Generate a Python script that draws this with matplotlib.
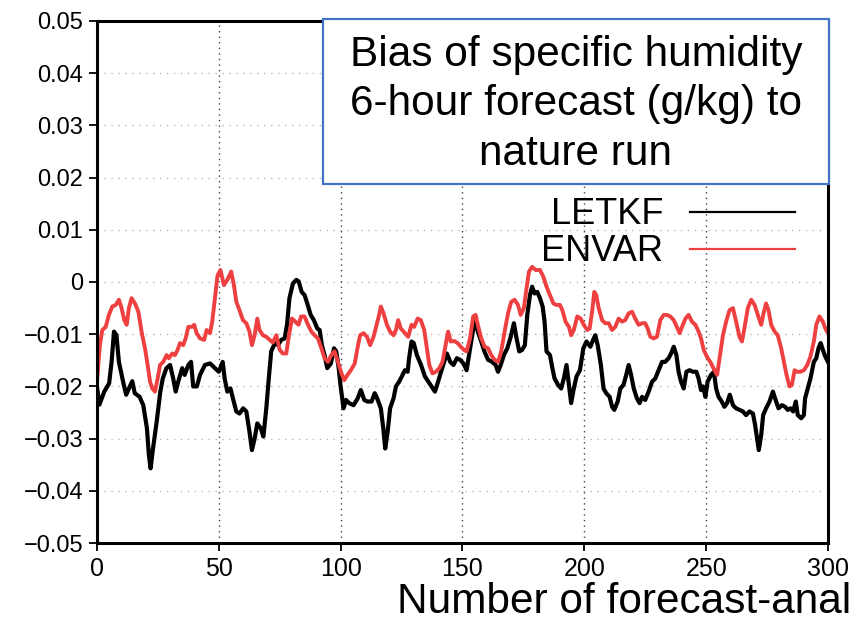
import matplotlib
matplotlib.use('Agg')
import matplotlib.pyplot as plt
from matplotlib.patches import Rectangle

# bias of 6-h specific humidity forecast vs nature run (g/kg)
letkf_cycle = [0, 1, 3, 5, 6, 7, 8, 9, 11, 12, 13.5, 14.5, 15.5, 17.5, 19, 20.5, 21.3, 22, 23, 24.5,
               26, 27, 28.5, 30, 31.3, 32.3, 33.4, 35, 36, 37.5, 38.6, 39.5, 41, 42.3, 44.3, 46.4, 48.4, 50,
               51.6, 52.4, 53.5, 54.8, 55.8, 57.2, 58.5, 60, 61.3, 62.6, 63.6, 64.7, 65.8, 67.2, 68.3, 69.5,
               70.4, 71.5, 73, 74.3, 75.6, 77, 78, 79, 80.4, 81.8, 82.8, 84, 85.2, 86.3, 87.7, 89, 90.4,
               91.4, 92.3, 93.4, 94.5, 96, 97.3, 98.2, 99.2, 100, 101.2, 102.2, 103.5, 105.3, 107, 108.3,
               109.7, 111, 112.7, 114, 115, 116.5, 117.5, 118.3, 119.3, 120.3, 121.7, 122.7, 124, 125.4,
               126.4, 127.5, 128.1, 129.1, 130, 131.3, 133, 134.6, 136, 137.3, 138.7, 140, 141, 142.5,
               143.6, 145, 146.3, 147.7, 149, 150.4, 151.7, 152.7, 154, 155, 156.3, 157.7, 159, 160.5,
               162.2, 163.6, 164.6, 165.7, 167, 168.4, 169.8, 171.1, 172.2, 173.3, 174.5, 175.6, 176.6,
               177.7, 178.6, 179.6, 180.7, 181.8, 182.9, 183.7, 184.5, 185.9, 186.9, 187.8, 189.2, 190.5,
               191.6, 192.7, 193.7, 194.6, 195.7, 196.8, 198.2, 199.6, 200.9, 202.5, 203.6, 204.5, 205.5,
               206.8, 207.9, 209, 210.4, 211.4, 212.3, 213.7, 214.8, 216.1, 217.2, 218.2, 219.2, 220.3,
               221.6, 222.7, 223.7, 225, 226.4, 227.8, 229.1, 230.5, 231.9, 233.2, 234.6, 235.6, 236.7,
               237.8, 238.7, 239.7, 240.8, 241.9, 243.2, 244.6, 246, 246.9, 247.9, 248.7, 249.7, 250.6,
               252, 253.2, 254.1, 255.1, 256.4, 257.5, 258.6, 259.7, 261, 262.3, 263.7, 265.1, 266.4,
               267.8, 269.2, 270.1, 271, 271.6, 272.6, 273.4, 274.6, 276, 277.4, 278.3, 279.7, 281.1,
               282.4, 283.5, 284.6, 285.7, 286.8, 287.6, 289, 290.1, 290.6, 291.7, 292.8, 294.2, 295.2,
               296.1, 297, 297.9, 298.9, 300]
letkf_bias = [-0.0200, -0.0235, -0.0210, -0.0194, -0.0153, -0.0095, -0.0102, -0.0153, -0.0197, -0.0216,
              -0.0200, -0.0190, -0.0213, -0.0220, -0.0236, -0.0280, -0.0331, -0.0357, -0.0319, -0.0268,
              -0.0210, -0.0185, -0.0165, -0.0159, -0.0185, -0.0210, -0.0190, -0.0165, -0.0178, -0.0159,
              -0.0153, -0.0200, -0.0200, -0.0178, -0.0159, -0.0156, -0.0165, -0.0172,
              -0.0153, -0.0185, -0.0210, -0.0204, -0.0223, -0.0248, -0.0252, -0.0242, -0.0248, -0.0287,
              -0.0322, -0.0300, -0.0271, -0.0280, -0.0296, -0.0242,
              -0.0191, -0.0133, -0.0117, -0.0121, -0.0111, -0.0108, -0.0082, -0.0031, -0.0003, 0.0004,
              0.0001, -0.0019, -0.0025, -0.0041, -0.0063, -0.0073, -0.0089,
              -0.0092, -0.0121, -0.0140, -0.0165, -0.0156, -0.0127, -0.0133, -0.0165, -0.0200, -0.0242,
              -0.0226, -0.0232, -0.0236, -0.0223, -0.0207,
              -0.0226, -0.0229, -0.0229, -0.0213, -0.0223, -0.0242, -0.0280, -0.0319, -0.0287, -0.0242,
              -0.0223, -0.0200, -0.0191, -0.0178,
              -0.0169, -0.0172, -0.0146, -0.0114, -0.0117, -0.0140, -0.0159, -0.0181, -0.0191, -0.0200,
              -0.0210, -0.0191, -0.0175, -0.0153,
              -0.0137, -0.0153, -0.0159, -0.0146, -0.0149, -0.0156, -0.0169, -0.0140, -0.0102, -0.0073,
              -0.0095, -0.0114, -0.0133, -0.0149,
              -0.0153, -0.0159, -0.0172, -0.0159, -0.0140, -0.0127, -0.0105, -0.0079, -0.0108, -0.0133,
              -0.0130, -0.0121, -0.0063,
              -0.0025, -0.0009, -0.0022, -0.0019, -0.0031, -0.0047, -0.0076, -0.0133, -0.0140, -0.0165,
              -0.0185, -0.0197, -0.0204,
              -0.0185, -0.0159, -0.0197, -0.0232, -0.0204, -0.0181, -0.0169, -0.0127, -0.0114, -0.0124,
              -0.0111, -0.0102, -0.0121,
              -0.0159, -0.0204, -0.0213, -0.0220, -0.0239, -0.0245, -0.0229, -0.0204, -0.0197, -0.0178,
              -0.0159, -0.0178, -0.0204,
              -0.0223, -0.0232, -0.0220, -0.0226, -0.0210, -0.0191, -0.0185, -0.0169, -0.0153, -0.0153,
              -0.0146, -0.0137, -0.0124,
              -0.0140, -0.0172, -0.0191, -0.0204, -0.0172, -0.0169, -0.0172, -0.0172, -0.0185, -0.0207,
              -0.0200, -0.0220, -0.0191,
              -0.0178, -0.0172, -0.0204, -0.0220, -0.0229, -0.0239, -0.0232, -0.0216, -0.0236, -0.0242,
              -0.0245, -0.0248, -0.0255,
              -0.0248, -0.0252, -0.0274, -0.0303, -0.0322, -0.0293, -0.0255, -0.0242, -0.0229, -0.0210,
              -0.0223, -0.0242, -0.0236,
              -0.0239, -0.0245, -0.0242, -0.0248, -0.0229, -0.0255, -0.0261, -0.0255, -0.0223, -0.0204,
              -0.0185, -0.0153, -0.0146,
              -0.0127, -0.0117, -0.0130, -0.0143, -0.0153]

envar_cycle = [0, 1.2, 2.2, 3.6, 4.9, 6.3, 7.7, 9, 10.1, 11.2, 12.2, 13.1, 14.2, 15.6, 17, 18.3, 19.7,
               20.8, 21.8, 22.7, 23.8, 24.9, 25.9, 27.2, 28.6, 29.5, 30.9, 32, 33.1, 34.1, 35.4, 36.4,
               37.5, 38.9, 39.9, 40.9, 42.3, 44, 45, 46.4, 47.3, 48.4, 49.5, 50.7, 52.1, 53.5, 55.1,
               56.2, 57.2, 58.5, 59.9, 61.3, 62.6, 63.6, 64.7, 65.8, 66.7, 68.1, 69.5, 70.9, 72.2, 73.6,
               75, 76.3, 77.7, 78.6, 80, 81.4, 82.7, 83.8, 85.2, 86.6, 88, 89.3, 90.7, 92.1, 93.4, 94.8,
               96.2, 97.5, 98.9, 100.2, 101.5, 102.8, 104.2, 105.8, 106.9, 108, 109.4, 110.8, 112.1,
               113.5, 114.9, 115.8, 116.5, 117.6, 119, 120.3, 121.7, 122.7, 123.6, 124.7, 126.4, 127.7,
               129.1, 130.2, 131.6, 132.9, 134.3, 135.4, 136.4, 137.7, 139.1, 140.5, 141.8, 143.2, 144.1,
               145.2, 146.6, 148, 149.3, 150.6, 151.7, 153.1, 154.4, 155.4, 156.3, 157.7, 159.1, 160.5,
               161.8, 163.2, 164.6, 165.9, 167.3, 168.7, 170, 171.4, 172.8, 173.9, 175.2, 176.3, 177.3,
               178.6, 180, 181.8, 183.2, 184.5, 185.9, 187.3, 188.6, 190, 191, 192.3, 193.7, 194.6,
               195.7, 197.1, 198.5, 199.8, 201.2, 202.2, 203.2, 204.1, 204.9, 205.9, 207.3, 208.6, 210,
               211.4, 212.7, 214.1, 215.5, 216.8, 218.2, 219.6, 220.9, 222.3, 223.7, 225, 226, 227.1,
               228.5, 229.8, 231.2, 232.6, 233.9, 235.3, 236.7, 238, 239.1, 240.1, 241.5, 242.8, 244.2,
               245.6, 246.9, 247.9, 249, 250.3, 251.7, 253.4, 254.5, 255.5, 256.9, 258.2, 259.6, 261,
               262.3, 263.7, 264.7, 265.7, 267.1, 268.5, 269.9, 271.2, 272.6, 273.7, 274.6, 275.6, 276.7,
               278.1, 279.4, 280.8, 281.9, 283, 284.2, 285.2, 286.3, 287.4, 288.7, 290.1, 291.5, 292.8,
               294.2, 295.2, 296.5, 297.9, 298.9, 300]
envar_bias = [-0.0191, -0.0121, -0.0092, -0.0086, -0.0063, -0.0047, -0.0044, -0.0034, -0.0050, -0.0073,
              -0.0082, -0.0050, -0.0031, -0.0041, -0.0057, -0.0095, -0.0127,
              -0.0159, -0.0191, -0.0204, -0.0210, -0.0185, -0.0159, -0.0153, -0.0140, -0.0146, -0.0137,
              -0.0140, -0.0130, -0.0117, -0.0121, -0.0108,
              -0.0086, -0.0086, -0.0082, -0.0098, -0.0108, -0.0111, -0.0092, -0.0098, -0.0076, -0.0031,
              0.0013, 0.0023, -0.0006, 0.0004, 0.0020,
              -0.0006, -0.0038, -0.0054, -0.0073, -0.0079, -0.0095, -0.0121, -0.0102, -0.0070, -0.0092,
              -0.0102, -0.0105, -0.0111, -0.0116, -0.0102,
              -0.0130, -0.0137, -0.0137, -0.0108, -0.0070, -0.0076, -0.0082, -0.0066, -0.0066, -0.0082,
              -0.0095, -0.0102, -0.0108, -0.0127, -0.0146, -0.0153,
              -0.0140, -0.0133, -0.0153, -0.0173, -0.0188, -0.0178, -0.0169, -0.0156, -0.0127, -0.0102,
              -0.0098, -0.0105, -0.0121,
              -0.0105, -0.0079, -0.0063, -0.0047, -0.0060, -0.0082, -0.0095, -0.0102, -0.0092, -0.0073,
              -0.0089, -0.0098, -0.0105,
              -0.0082, -0.0086, -0.0070, -0.0073, -0.0092, -0.0127, -0.0159, -0.0175, -0.0172, -0.0165,
              -0.0153, -0.0117, -0.0095,
              -0.0114, -0.0113, -0.0117, -0.0124, -0.0130, -0.0133, -0.0108, -0.0066, -0.0063, -0.0082,
              -0.0108, -0.0124, -0.0127,
              -0.0140, -0.0149, -0.0153, -0.0133, -0.0095, -0.0060, -0.0038, -0.0034, -0.0044, -0.0063,
              -0.0050, -0.0012, 0.0020,
              0.0029, 0.0023, 0.0023, 0.0010, -0.0009, -0.0025, -0.0041, -0.0044, -0.0044, -0.0054,
              -0.0076, -0.0086, -0.0102,
              -0.0092, -0.0066, -0.0070, -0.0082, -0.0092, -0.0089, -0.0057, -0.0019, -0.0025, -0.0050,
              -0.0073, -0.0079, -0.0079,
              -0.0092, -0.0086, -0.0070, -0.0076, -0.0073, -0.0060, -0.0057, -0.0070, -0.0082, -0.0079,
              -0.0079, -0.0089, -0.0105,
              -0.0108, -0.0105, -0.0073, -0.0063, -0.0063, -0.0066, -0.0073, -0.0086, -0.0098, -0.0086,
              -0.0070, -0.0063, -0.0076,
              -0.0082, -0.0095, -0.0108, -0.0130, -0.0143, -0.0153, -0.0169, -0.0178, -0.0146, -0.0102,
              -0.0076, -0.0054, -0.0050,
              -0.0076, -0.0105, -0.0114, -0.0089, -0.0050, -0.0034, -0.0044, -0.0063, -0.0082, -0.0057,
              -0.0041, -0.0054, -0.0082,
              -0.0095, -0.0102, -0.0127, -0.0153, -0.0178, -0.0200, -0.0197, -0.0169, -0.0172, -0.0172,
              -0.0169, -0.0159, -0.0143,
              -0.0114, -0.0082, -0.0066, -0.0076, -0.0089, -0.0098]

x_ticks = [0, 50, 100, 150, 200, 250, 300]
y_ticks = [-0.05, -0.04, -0.03, -0.02, -0.01, 0, 0.01, 0.02, 0.03, 0.04, 0.05]
y_tick_labels = ['\u22120.05', '\u22120.04', '\u22120.03', '\u22120.02', '\u22120.01', '0',
                 '0.01', '0.02', '0.03', '0.04', '0.05']

fig = plt.figure(figsize=(8.52, 6.21), dpi=100)
ax = fig.add_axes([0.1138, 0.1256, 0.8580, 0.8406])

ax.plot(letkf_cycle, letkf_bias, color='black', lw=3.0, label='LETKF', solid_joinstyle='round')
ax.plot(envar_cycle, envar_bias, color='#ee4040', lw=2.8, label='ENVAR', solid_joinstyle='round')

ax.set_xlim(0, 300)
ax.set_ylim(-0.05, 0.05)
ax.set_xticks(x_ticks)
ax.set_yticks(y_ticks)
ax.set_yticklabels(y_tick_labels)

# dotted grid, vertical lines darker than horizontal ones
for y in y_ticks[1:-1]:
    ax.axhline(y, color='#b8b8b8', lw=1.0, ls=(0, (1, 4)), zorder=0)
for x in x_ticks[1:-1]:
    ax.axvline(x, color='#444444', lw=1.0, ls=(0, (1, 3)), zorder=0)

for s in ax.spines.values():
    s.set_linewidth(2.2)
ax.tick_params(direction='out', length=6, width=1.3, pad=4)
for lab in ax.get_yticklabels():
    lab.set_family(['Liberation Sans', 'DejaVu Sans'])
    lab.set_fontsize(17)
for lab in ax.get_xticklabels():
    lab.set_family(['Liberation Sans', 'DejaVu Sans'])
    lab.set_fontsize(18)

leg = ax.legend(loc='upper right', bbox_to_anchor=(0.955, 0.662), frameon=False, markerfirst=False,
                borderpad=0, borderaxespad=0, handlelength=2.9, handletextpad=0.75,
                labelspacing=0.05, prop={'family': 'Liberation Sans', 'size': 26})
for ln in leg.get_lines():
    ln.set_linewidth(1.6)

# title box over the top-right corner
box = Rectangle((323 / 852, 1 - 184 / 621), (829 - 323) / 852, (184 - 19) / 621,
                transform=fig.transFigure, facecolor='white', edgecolor='#4472c4', lw=1.6, zorder=10)
fig.add_artist(box)
fig.text(0.676, 0.832, 'Bias of specific humidity\n6-hour forecast (g/kg) to\nnature run',
         ha='center', va='center', fontsize=30.5, family='Liberation Sans', linespacing=1.3, zorder=11)

fig.text(851 / 852, 0.013, 'Number of forecast-anal', ha='right', va='baseline',
         fontsize=30.5, family='Liberation Sans')

fig.savefig('out.png', dpi=100)
